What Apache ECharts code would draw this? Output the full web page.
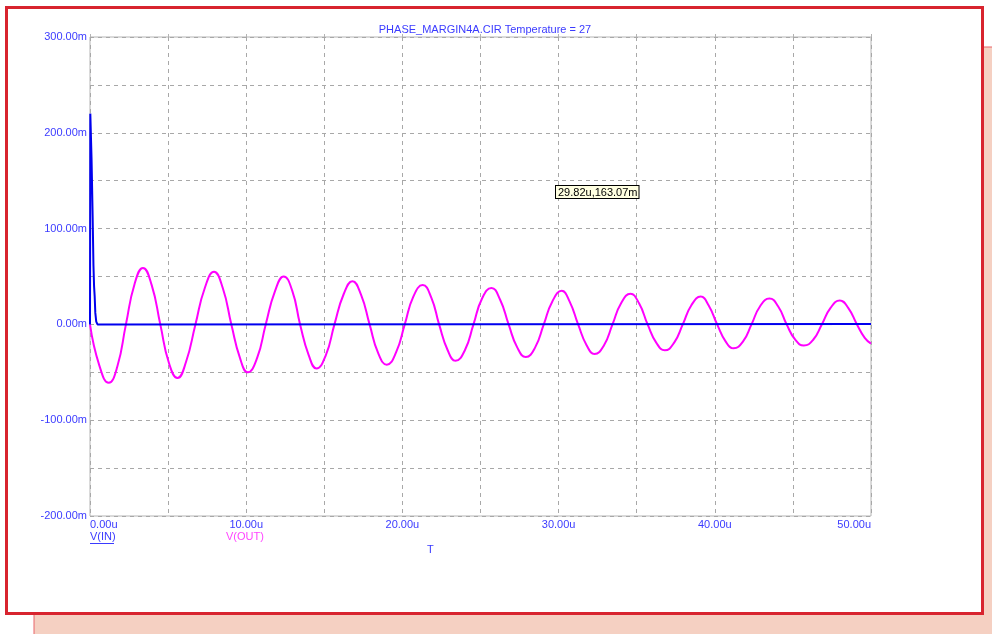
<!DOCTYPE html>
<html>
<head>
<meta charset="utf-8">
<script src="https://cdn.jsdelivr.net/npm/echarts@6/dist/echarts.min.js"></script>
<style>
html,body{margin:0;padding:0;background:#fff;}
#chart{width:992px;height:634px;}
</style>
</head>
<body>
<div id="chart"></div>
<script>
// ---- data (time in u, voltage in m) ----
var titleText = 'PHASE_MARGIN4A.CIR Temperature = 27';
var seriesNames = ['V(IN)', 'V(OUT)'];
var xAxisName = 'T';
var cursorText = '29.82u,163.07m';

var inT = [0, 0.02, 0.06, 0.10, 0.14, 0.17, 0.20, 0.22, 0.26, 0.30, 0.34, 0.40, 0.48, 0.60, 50];
var inV = [0, 220, 218, 172, 170, 112, 110, 62, 40, 29, 12, 3, 0, 0.5, 0.5];

var outT = [0, 0.6, 1.2, 1.75, 2.3, 2.85, 3.39, 3.95, 4.5, 5.05, 5.6, 6.15, 6.75, 7.35, 7.94, 8.5,
  9.05, 9.6, 10.1, 10.7, 11.25, 11.85, 12.4, 12.95, 13.45, 14.0, 14.5, 15.1, 15.65, 16.25, 16.8, 17.35,
  17.9, 18.45, 19.0, 19.6, 20.15, 20.7, 21.3, 21.85, 22.35, 22.9, 23.4, 24.0, 24.55, 25.1, 25.7, 26.25,
  26.8, 27.35, 27.9, 28.5, 29.05, 29.6, 30.2, 30.7, 31.25, 31.8, 32.3, 32.9, 33.45, 34.0, 34.6, 35.15,
  35.7, 36.25, 36.8, 37.4, 37.95, 38.5, 39.1, 39.6, 40.15, 40.7, 41.2, 41.8, 42.35, 42.9, 43.5, 44.05,
  44.6, 45.15, 45.7, 46.3, 46.85, 47.4, 48.0, 48.55, 49.1, 49.6, 50.0];
var outV = [0, -43, -61, -44, 0, 42, 59, 41, 0, -40, -56, -39, 0, 38, 55, 38,
  0, -35, -50, -35, 0, 35, 50, 35, 0, -32, -46, -32, 0, 32, 45, 31,
  0, -30, -42, -29, 0, 29, 41, 28, 0, -27, -38, -27, 0, 27, 38, 26,
  0, -24, -34, -24, 0, 24, 35, 24, 0, -22, -31, -22, 0, 22, 32, 22,
  0, -19, -27, -19, 0, 20, 29, 20, 0, -18, -25, -18, 0, 19, 27, 19,
  0, -16, -22, -16, 0, 17, 25, 17, 0, -14, -20];

var yTickStep = 50, yLabelStep = 100, yMin = -200, yMax = 300;
var xTickStep = 5, xLabelStep = 10, xMin = 0, xMax = 50;

function zip(a, b) { return a.map(function (v, i) { return [v, b[i]]; }); }

var labelBlue = '#3b3bff';
var gridGray = '#a8a8a8';
var font = 'Liberation Sans, Arial, sans-serif';

var chart = echarts.init(document.getElementById('chart'));
chart.setOption({
  animation: false,
  backgroundColor: '#ffffff',
  title: {
    text: titleText, left: 480, top: 19, textAlign: 'center',
    textStyle: { fontFamily: font, fontSize: 11, fontWeight: 'normal', color: labelBlue }
  },
  grid: { left: 90, top: 37, right: 121, bottom: 118, show: true, borderColor: '#b4b4b4', borderWidth: 1, backgroundColor: 'transparent' },
  xAxis: [{
    type: 'value', min: xMin, max: xMax, interval: xTickStep,
    axisLine: { show: false }, axisTick: { show: false },
    splitLine: { show: true, lineStyle: { color: gridGray, type: [4, 4], width: 1 } },
    axisLabel: {
      margin: 3, fontFamily: font, fontSize: 11, color: labelBlue,
      alignMinLabel: 'left', alignMaxLabel: 'right', showMinLabel: true, showMaxLabel: true,
      formatter: function (v) { return (Math.round(v) % xLabelStep === 0) ? v.toFixed(2) + 'u' : ''; }
    }
  }, {
    type: 'value', min: xMin, max: xMax, interval: xTickStep, position: 'top',
    axisLine: { show: false }, axisLabel: { show: false }, splitLine: { show: false },
    axisTick: { show: true, length: 3, lineStyle: { color: '#b4b4b4' } }
  }],
  yAxis: {
    type: 'value', min: yMin, max: yMax, interval: yTickStep,
    axisLine: { show: false }, axisTick: { show: false },
    splitLine: { show: true, lineStyle: { color: gridGray, type: [4, 4], width: 1 } },
    axisLabel: {
      margin: 3, fontFamily: font, fontSize: 11, color: labelBlue,
      formatter: function (v) { return (Math.round(v) % yLabelStep === 0) ? v.toFixed(2) + 'm' : ''; }
    }
  },
  series: [{
    name: seriesNames[1], type: 'line', data: zip(outT, outV), smooth: 0.5, symbol: 'none',
    lineStyle: { color: '#ff00ff', width: 2 }, z: 3
  }, {
    name: seriesNames[0], type: 'line', data: zip(inT, inV), symbol: 'none',
    lineStyle: { color: '#0000ee', width: 2 }, z: 4
  }],
  graphic: [
    { type: 'rect', z: -20, shape: { x: 34, y: 47, width: 970, height: 600 },
      style: { fill: '#f5d0c2', stroke: '#e8646a', lineWidth: 1 } },
    { type: 'rect', z: -10, shape: { x: 6.5, y: 7.5, width: 976, height: 606 },
      style: { fill: '#ffffff', stroke: '#d8242f', lineWidth: 3 } },
    { type: 'text', left: 90, top: 531, style: { text: seriesNames[0], fill: labelBlue, font: '11px ' + font } },
    { type: 'line', shape: { x1: 90, y1: 543.5, x2: 114, y2: 543.5 }, style: { stroke: labelBlue, lineWidth: 1 } },
    { type: 'text', left: 226, top: 531, style: { text: seriesNames[1], fill: '#ff44ff', font: '11px ' + font } },
    { type: 'text', left: 427, top: 544, style: { text: xAxisName, fill: labelBlue, font: '11px ' + font } },
    { type: 'text', left: 555, top: 185, z: 10,
      style: { text: cursorText, fill: '#000', font: '11px ' + font, backgroundColor: '#ffffe1',
        borderColor: '#000', borderWidth: 1, padding: [1, 1, 0, 2] } }
  ]
});
</script>
</body>
</html>
